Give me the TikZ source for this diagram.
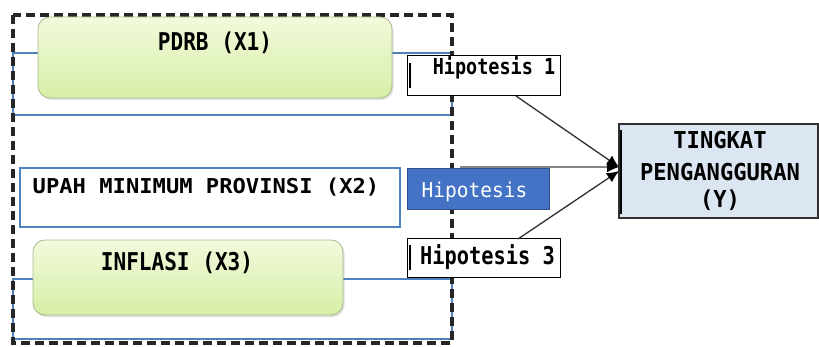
\documentclass[tikz,border=0pt]{standalone}
\usepackage{fontspec}
\newfontfamily\gmono{DejaVu Sans Mono}
\usetikzlibrary{arrows.meta,shadows}
\definecolor{bline}{HTML}{4F81BD}
\definecolor{gtop}{HTML}{F2FADC}
\definecolor{gbot}{HTML}{D6EEA6}
\definecolor{gedge}{HTML}{A9B98C}
\definecolor{hblue}{HTML}{4472C4}
\definecolor{hedge}{HTML}{2F528F}
\definecolor{yfill}{HTML}{DCE6F2}
\definecolor{dk}{HTML}{303030}
\newcommand{\gtxt}[3]{{\fontsize{#1}{#1}\selectfont\scalebox{#2}[1]{#3}}}
\tikzset{
  greenbox/.style={draw=gedge, line width=0.8pt, rounded corners=12pt, top color=gtop, bottom color=gbot, inner sep=0pt,
    drop shadow={shadow xshift=1.5pt, shadow yshift=-2pt, opacity=0.25}},
  bluerect/.style={draw=bline, line width=1.5pt},
  hipbox/.style={draw=black, line width=1pt, fill=white, inner sep=0pt},
  lab/.style={inner sep=0pt, font=\gmono\bfseries},
  conn/.style={draw=dk, line width=1.3pt, -{Latex[length=12pt,width=11pt,color=black,fill=black]}},
}
\begin{document}
\begin{tikzpicture}[x=1pt,y=-1pt]
\useasboundingbox (0,0) rectangle (819,347);
% blue rectangles behind
\draw[bluerect] (13,53) rectangle (452,115);
\draw[bluerect] (13,279) rectangle (452,339);
% dashed outer frame
\draw[line width=3.4pt, dash pattern=on 9pt off 5pt, black!85] (13,15) rectangle (452,343);
% green boxes
\node[greenbox, minimum width=354pt, minimum height=81pt] (pdrb) at (215,57.5) {};
\node[lab] (pdrbT) at (215,43) {\gtxt{24.5pt}{0.86}{PDRB (X1)}};
\node[greenbox, minimum width=310pt, minimum height=75pt] (infl) at (188,277.5) {};
\node[lab] (inflT) at (177,263) {\gtxt{24.5pt}{0.86}{INFLASI (X3)}};
% UPAH box
\node[draw=bline, line width=1.5pt, fill=white, minimum width=380pt, minimum height=59pt, inner sep=0pt] (upah) at (210,197.5) {};
\node[lab] (upahT) at (206,187) {\gtxt{20.5pt}{1.08}{UPAH MINIMUM PROVINSI (X2)}};
% Hipotesis boxes
\node[hipbox, minimum width=153pt, minimum height=40pt] (h1) at (483.5,76) {};
\node[lab] (h1T) at (494,68) {\gtxt{22pt}{0.84}{Hipotesis 1}};
\draw[line width=1.2pt] (410,63) -- (410,88);
\node[draw=hedge, line width=1pt, fill=hblue, minimum width=142pt, minimum height=41pt, inner sep=0pt] (h2) at (478,189.5) {};
\node[inner sep=0pt, text=white, font=\gmono] (h2T) at (474.5,192) {\gtxt{20.5pt}{0.95}{Hipotesis}};
\node[hipbox, minimum width=153pt, minimum height=39pt] (h3) at (483.5,258.5) {};
\node[lab] (h3T) at (487.5,257) {\gtxt{24.5pt}{0.83}{Hipotesis 3}};
\draw[line width=1.2pt] (410,245) -- (410,270);
% Y box
\node[draw=dk, line width=1.2pt, fill=yfill, minimum width=199pt, minimum height=94pt, inner sep=0pt] (y) at (718.5,171) {};
\draw[line width=1.6pt] (621,130) -- (621,214);
\node[lab] (yT1) at (720,140) {\gtxt{23.3pt}{0.95}{TINGKAT}};
\node[lab] (yT2) at (720,172) {\gtxt{23.3pt}{0.95}{PENGANGGURAN}};
\node[lab] (yT3) at (720,200) {\gtxt{23.3pt}{0.95}{(Y)}};
% connectors
\coordinate (tipA) at (619,167);
\coordinate (tipB) at (619,171);
\coordinate (h2start) at (460,167);
\draw[conn] (516,96) -- (tipA);
\draw[conn, draw=dk!60] (h2start) -- (tipA);
\draw[conn] (518,239) -- (tipB);
\end{tikzpicture}
\end{document}
